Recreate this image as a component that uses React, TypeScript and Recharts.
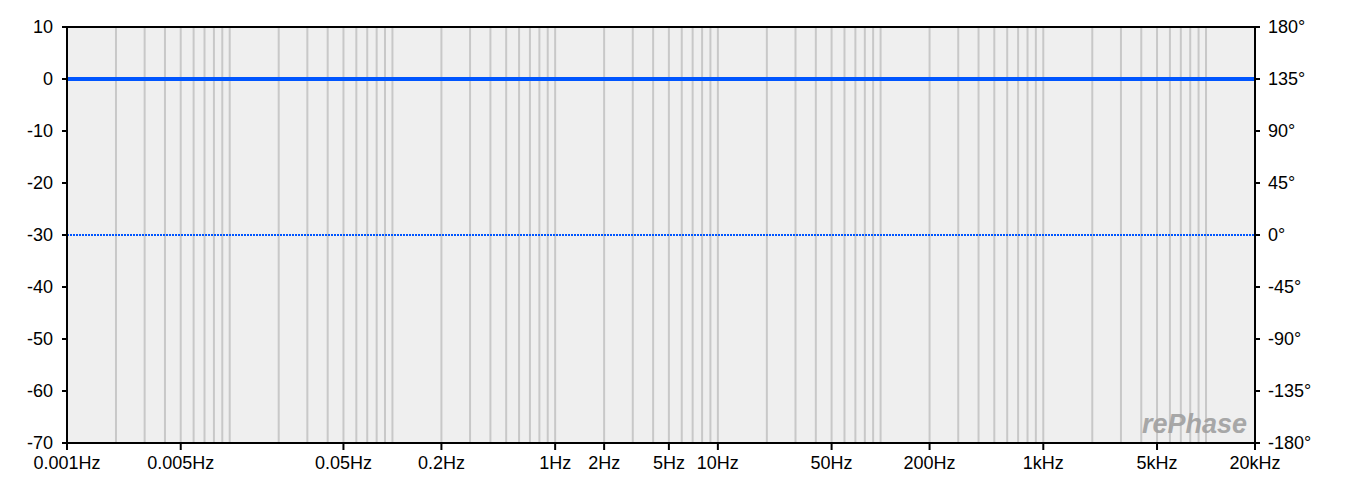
import React from 'react';
import { ComposedChart, Line, XAxis, YAxis, CartesianGrid, ReferenceLine } from 'recharts';

// frequency response: flat magnitude (dB) and flat phase (deg)
const freqs = [0.001, 0.01, 0.1, 1, 10, 100, 1000, 10000, 20000];
const magnitude = [0, 0, 0, 0, 0, 0, 0, 0, 0];
const phase = [0, 0, 0, 0, 0, 0, 0, 0, 0];

const freqTicks = [0.001, 0.005, 0.05, 0.2, 1, 2, 5, 10, 50, 200, 1000, 5000, 20000];
const freqLabels = ['0.001Hz', '0.005Hz', '0.05Hz', '0.2Hz', '1Hz', '2Hz', '5Hz', '10Hz', '50Hz', '200Hz', '1kHz', '5kHz', '20kHz'];
const dbTicks = [-70, -60, -50, -40, -30, -20, -10, 0, 10];
const degTicks = [-180, -135, -90, -45, 0, 45, 90, 135, 180];

// vertical grid: 1..9 in every decade
const decades = [0.001, 0.01, 0.1, 1, 10, 100, 1000, 10000];
const multipliers = [1, 2, 3, 4, 5, 6, 7, 8, 9];

const data = freqs.map((f, i) => ({ f, mag: magnitude[i], phase: phase[i] }));
const gridFreqs = decades
  .flatMap((d) => multipliers.map((m) => +(d * m).toPrecision(3)))
  .filter((f) => f > 0.001 && f < 20000);

const font = { fontFamily: '"Liberation Sans", Arial, sans-serif', fontSize: 18, fill: '#000' };
const blue = '#0055ff';

const fmtFreq = (v: number) => {
  const i = freqTicks.indexOf(v);
  return i >= 0 ? freqLabels[i] : String(v);
};

const App: React.FC = () => {
  return (
    <div style={{ margin: -8, position: 'relative', width: 1359, height: 483 }}>
      <ComposedChart width={1359} height={483} data={data} margin={{ top: 27, right: 44, left: 0, bottom: 10 }}>
        <CartesianGrid fill="#efefef" horizontal={false} vertical={false} yAxisId="db" />
        <XAxis
          dataKey="f"
          type="number"
          scale="log"
          domain={[0.001, 20000]}
          ticks={freqTicks}
          tickFormatter={fmtFreq}
          interval={0}
          allowDataOverflow
          height={30}
          tick={font}
          tickSize={7}
          tickMargin={6}
          axisLine={{ stroke: '#000', strokeWidth: 2 }}
          tickLine={{ stroke: '#000', strokeWidth: 2 }}
        />
        <YAxis
          yAxisId="db"
          domain={[-70, 10]}
          ticks={dbTicks}
          interval={0}
          width={67}
          tick={font}
          tickSize={5}
          tickMargin={9}
          axisLine={{ stroke: '#000', strokeWidth: 2 }}
          tickLine={{ stroke: '#000', strokeWidth: 2 }}
        />
        <YAxis
          yAxisId="deg"
          orientation="right"
          domain={[-180, 180]}
          ticks={degTicks}
          interval={0}
          width={60}
          tick={font}
          tickSize={5}
          tickMargin={8}
          tickFormatter={(v: number) => `${v}°`}
          axisLine={{ stroke: '#000', strokeWidth: 2 }}
          tickLine={{ stroke: '#000', strokeWidth: 2 }}
        />
        {gridFreqs.map((f) => (
          <ReferenceLine key={f} x={f} yAxisId="db" stroke="#c8c8c8" strokeWidth={2} />
        ))}
        <ReferenceLine y={10} yAxisId="db" stroke="#000" strokeWidth={2} />
        <Line
          yAxisId="deg"
          dataKey="phase"
          stroke={blue}
          strokeWidth={2}
          strokeDasharray="2 1"
          dot={false}
          isAnimationActive={false}
        />
        <Line
          yAxisId="db"
          dataKey="mag"
          stroke={blue}
          strokeWidth={4}
          dot={false}
          isAnimationActive={false}
        />
      </ComposedChart>
      <div
        style={{
          position: 'absolute',
          left: 1142,
          top: 409,
          fontFamily: '"Liberation Sans", Arial, sans-serif',
          fontSize: 27,
          fontWeight: 'bold',
          fontStyle: 'italic',
          color: '#a0a0a0',
          opacity: 0.9,
          pointerEvents: 'none',
        }}
      >
        rePhase
      </div>
    </div>
  );
};

export default App;
